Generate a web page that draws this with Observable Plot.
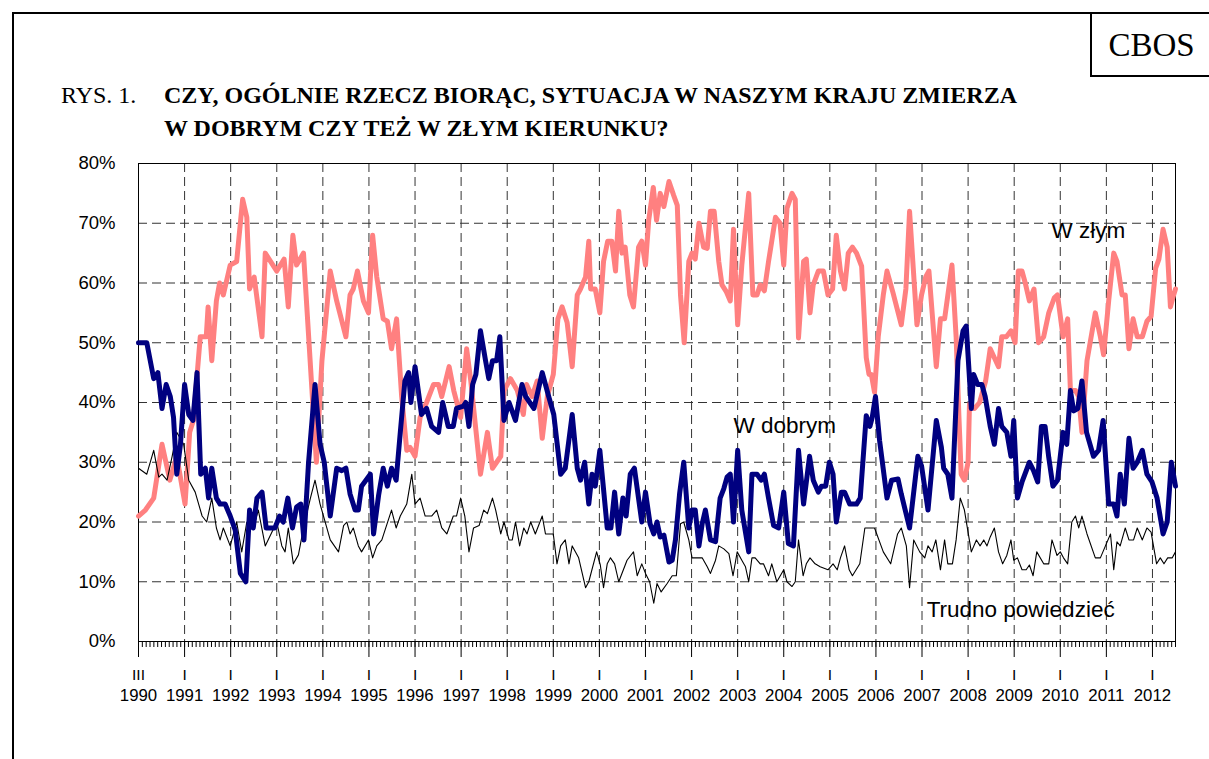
<!DOCTYPE html>
<html><head><meta charset="utf-8">
<script src="https://cdn.jsdelivr.net/npm/d3@7"></script>
<script src="https://cdn.jsdelivr.net/npm/@observablehq/plot@0.6"></script>
<style>
html,body{margin:0;padding:0;background:#fff}
body{width:1209px;height:759px;overflow:hidden;position:relative}
#frame{position:absolute;left:12px;top:12px;width:1400px;height:900px;border-left:2px solid #000;border-top:2px solid #000;box-sizing:border-box}
#cbos{position:absolute;left:1090px;top:12px;width:200px;height:65px;border-left:2px solid #000;border-bottom:2px solid #000;box-sizing:border-box}
#cbosText{position:absolute;left:1093px;width:117px;top:29px;text-align:center;font:33px/33px "Liberation Serif","Times New Roman",serif}
#rys{position:absolute;left:61px;top:79px;font:24px/33px "Liberation Serif","Times New Roman",serif;white-space:nowrap}
#title{position:absolute;left:164px;top:79px;font:bold 24px/33px "Liberation Serif","Times New Roman",serif;white-space:nowrap}
#chart{position:absolute;left:0;top:0}
</style></head>
<body>
<div id="frame"></div>
<div id="cbos"></div>
<div id="cbosText">CBOS</div>
<div id="rys">RYS. 1.</div>
<div id="title">CZY, OGÓLNIE RZECZ BIORĄC, SYTUACJA W NASZYM KRAJU ZMIERZA<br>W DOBRYM CZY TEŻ W ZŁYM KIERUNKU?</div>
<div id="chart"></div>
<script>
// ---- data (decimal year, percent) ----
const dobrymT = [1990.00,1990.18,1990.33,1990.42,1990.51,1990.60,1990.69,1990.76,1990.83,1990.91,1991.00,1991.09,1991.18,1991.27,1991.35,1991.45,1991.52,1991.59,1991.69,1991.77,1991.88,1991.99,1992.10,1992.21,1992.33,1992.41,1992.49,1992.57,1992.68,1992.77,1992.96,1993.06,1993.14,1993.24,1993.34,1993.43,1993.52,1993.59,1993.69,1993.83,1993.94,1994.03,1994.16,1994.30,1994.41,1994.50,1994.59,1994.70,1994.77,1994.84,1995.03,1995.10,1995.21,1995.31,1995.40,1995.49,1995.59,1995.68,1995.78,1995.86,1995.91,1996.00,1996.14,1996.25,1996.36,1996.51,1996.60,1996.72,1996.83,1996.90,1997.05,1997.10,1997.17,1997.25,1997.32,1997.42,1997.53,1997.60,1997.68,1997.77,1997.84,1997.93,1998.04,1998.18,1998.32,1998.40,1998.49,1998.58,1998.76,1998.90,1999.01,1999.16,1999.26,1999.41,1999.52,1999.59,1999.68,1999.77,1999.84,1999.91,2000.01,2000.17,2000.25,2000.33,2000.42,2000.51,2000.58,2000.67,2000.76,2000.92,2001.00,2001.10,2001.18,2001.25,2001.32,2001.40,2001.51,2001.58,2001.65,2001.74,2001.83,2001.94,2002.01,2002.08,2002.16,2002.23,2002.30,2002.41,2002.52,2002.62,2002.70,2002.77,2002.84,2002.91,2003.00,2003.09,2003.24,2003.31,2003.42,2003.51,2003.58,2003.67,2003.78,2003.89,2004.00,2004.10,2004.21,2004.32,2004.43,2004.56,2004.64,2004.75,2004.82,2004.91,2004.99,2005.07,2005.14,2005.25,2005.32,2005.43,2005.58,2005.66,2005.79,2005.87,2005.92,2005.99,2006.08,2006.24,2006.34,2006.48,2006.55,2006.73,2006.91,2006.99,2007.13,2007.31,2007.42,2007.47,2007.56,2007.65,2007.78,2007.89,2007.96,2008.07,2008.12,2008.21,2008.30,2008.37,2008.48,2008.57,2008.66,2008.73,2008.84,2008.93,2008.99,2009.07,2009.17,2009.33,2009.42,2009.51,2009.59,2009.67,2009.75,2009.84,2009.94,2010.06,2010.14,2010.22,2010.29,2010.38,2010.47,2010.57,2010.72,2010.83,2010.93,2011.05,2011.16,2011.23,2011.30,2011.39,2011.49,2011.58,2011.67,2011.78,2011.88,2011.99,2012.10,2012.23,2012.32,2012.41,2012.50];
const dobrymV = [50,50,44,45,39,43,41,37.5,28,33,43,38,37,45,28,29,24,29,24,23,23,21,18.6,11.4,10,22,19,24,25,19,19,21,20,24,19,22.5,23,17,30,43,33,30,21,29,28.6,29,24.7,22,22,26,28,18,24.5,29,26,29,27,35,43.6,45,40,46,38,39,36,35,40,36,36,39,39.4,40,36,43,44.7,52,47,44,47,47,51,37,40,37,43,41,40,39,45,41,38,28,29,38,29,27,30,23,28,26,32,19,19,25,18,24,21,28,29,20,25,19.7,18,20,17.5,17.8,13.3,13.6,17,24.7,30,19,22,22,16,19.7,22,17,16.7,24,25.6,27.5,28,20,32,22,15,28,28,27,28,24,19.4,19,25,16.4,16,32,23,31,27,25,26,26,30,28,20,25,25,23,23,24,37.8,36,37.5,41,33.6,24,27,27.2,24.7,19,31,29.4,22,37,32.5,29,28,24,47,52,52.8,39,44.7,43,43,41,36,33,39,36,35,31,37,24,26.7,30,28.6,26.7,36,36,30.8,26,27,35,33,42,38.6,39,43.6,35,31,32,37,23,23,21,28,23,34,29,30,32,28,26.7,24,18,20,30,26];

const zlymT = [1990.00,1990.15,1990.33,1990.51,1990.68,1990.83,1991.01,1991.11,1991.19,1991.34,1991.47,1991.51,1991.59,1991.69,1991.76,1991.84,1991.99,1992.13,1992.26,1992.35,1992.41,1992.51,1992.68,1992.75,1993.00,1993.16,1993.25,1993.35,1993.43,1993.58,1993.86,1993.98,1994.16,1994.30,1994.50,1994.59,1994.66,1994.75,1994.88,1994.99,1995.08,1995.17,1995.31,1995.40,1995.49,1995.60,1995.71,1995.82,1995.89,1996.00,1996.11,1996.25,1996.40,1996.51,1996.58,1996.74,1996.84,1996.99,1997.12,1997.21,1997.42,1997.57,1997.68,1997.86,1997.93,1998.07,1998.22,1998.35,1998.42,1998.54,1998.65,1998.76,1998.87,1999.00,1999.10,1999.19,1999.30,1999.41,1999.52,1999.59,1999.70,1999.77,1999.81,1999.91,2000.01,2000.09,2000.18,2000.27,2000.35,2000.42,2000.49,2000.56,2000.66,2000.74,2000.85,2000.92,2001.00,2001.07,2001.17,2001.24,2001.32,2001.40,2001.51,2001.61,2001.69,2001.76,2001.84,2001.94,2002.01,2002.08,2002.16,2002.26,2002.34,2002.41,2002.49,2002.59,2002.66,2002.75,2002.84,2002.91,2003.00,2003.09,2003.24,2003.33,2003.42,2003.49,2003.58,2003.67,2003.74,2003.82,2003.92,2004.00,2004.07,2004.18,2004.25,2004.32,2004.43,2004.49,2004.57,2004.64,2004.75,2004.86,2004.96,2005.06,2005.14,2005.23,2005.32,2005.40,2005.49,2005.58,2005.69,2005.79,2005.85,2005.90,2005.97,2006.05,2006.16,2006.24,2006.37,2006.55,2006.65,2006.73,2006.81,2006.89,2006.99,2007.08,2007.15,2007.22,2007.31,2007.40,2007.49,2007.65,2007.74,2007.80,2007.85,2007.92,2008.00,2008.03,2008.14,2008.25,2008.38,2008.48,2008.57,2008.66,2008.73,2008.83,2008.93,2009.02,2009.09,2009.17,2009.24,2009.33,2009.43,2009.53,2009.64,2009.75,2009.87,2009.94,2010.06,2010.16,2010.22,2010.33,2010.40,2010.47,2010.58,2010.76,2010.87,2010.94,2011.05,2011.16,2011.23,2011.34,2011.41,2011.49,2011.58,2011.67,2011.78,2011.88,2011.97,2012.07,2012.14,2012.23,2012.32,2012.39,2012.46,2012.50];
const zlymV = [21,22,24,33,27,31,23,35,37,51,51,56,47,57,60,58,63,63.6,74,71,59,61,51,65,62,64,56,68,63,65,30,47,62,57,51,58,59,62,57,55,68,61,54,53.6,49,54,41,32,32.5,31,37.5,40,43,43,41,46,42,37.5,49,43.6,28,35,29,31,42,44,42,38,43,41,43.6,34,41,44.7,54,56,53.4,46,58,59,61,67,59,59,55,63.6,67,67,62,72,65,66,58,56,66,67,63,70.5,76,70.5,75,72.8,77,74.7,73,58,50,63.6,65,64,70,66,65.8,72,72,63.6,59.7,58.6,57,69,53,63,75,58,58,59.7,58.7,63.6,67,71,70,63,72.5,75,74,50.8,63.6,64,55,59.7,62,62,58,59,68,62,59,65,66,65,62.8,47.5,44.7,44.7,41.7,51,58,62,58.4,53,59,72,62.5,53,58,61,62,55,46,54,54,63,51,37.8,28,27,30,39.7,39,40,43.6,49,47.5,46,51,51,52,50,62,62,60,57,59,50,51,55,57.5,58,51,54,42,42,41,35,47,55,51,48,57,65,63.6,58,58,49,54,51,51,53.6,54.4,62.5,64,69,66,56,58,59];

const trudnoT = [1990.00,1990.18,1990.33,1990.44,1990.51,1990.62,1990.73,1990.83,1990.98,1991.09,1991.23,1991.38,1991.48,1991.59,1991.69,1991.77,1991.84,1991.99,1992.13,1992.24,1992.35,1992.49,1992.60,1992.75,1993.00,1993.11,1993.18,1993.25,1993.36,1993.47,1993.58,1993.73,1993.83,1993.94,1994.16,1994.34,1994.45,1994.52,1994.59,1994.66,1994.77,1994.84,1994.99,1995.08,1995.17,1995.28,1995.49,1995.59,1995.68,1995.82,1995.93,1996.00,1996.11,1996.22,1996.36,1996.47,1996.58,1996.69,1996.83,1996.90,1996.99,1997.08,1997.17,1997.27,1997.39,1997.49,1997.57,1997.68,1997.75,1997.86,1997.93,1998.04,1998.11,1998.18,1998.27,1998.36,1998.43,1998.51,1998.61,1998.76,1998.83,1999.00,1999.08,1999.16,1999.26,1999.34,1999.41,1999.55,1999.70,1999.77,1999.94,2000.02,2000.09,2000.17,2000.24,2000.33,2000.42,2000.60,2000.74,2000.82,2000.92,2001.00,2001.09,2001.18,2001.25,2001.34,2001.47,2001.58,2001.67,2001.76,2001.83,2001.94,2002.01,2002.23,2002.34,2002.41,2002.52,2002.59,2002.70,2002.81,2002.90,2002.99,2003.09,2003.17,2003.24,2003.31,2003.38,2003.49,2003.56,2003.67,2003.74,2003.85,2004.00,2004.07,2004.18,2004.25,2004.32,2004.42,2004.49,2004.57,2004.68,2004.79,2004.96,2005.07,2005.16,2005.23,2005.32,2005.42,2005.49,2005.65,2005.76,2005.97,2006.16,2006.32,2006.47,2006.55,2006.66,2006.73,2006.82,2006.95,2007.06,2007.13,2007.22,2007.30,2007.40,2007.49,2007.56,2007.66,2007.74,2007.83,2007.92,2008.07,2008.18,2008.26,2008.34,2008.41,2008.48,2008.57,2008.66,2008.75,2008.84,2008.93,2008.99,2009.07,2009.17,2009.26,2009.33,2009.41,2009.49,2009.64,2009.75,2009.82,2009.93,2010.00,2010.07,2010.16,2010.25,2010.33,2010.40,2010.47,2010.58,2010.76,2010.87,2010.98,2011.09,2011.16,2011.23,2011.30,2011.41,2011.49,2011.59,2011.67,2011.78,2011.88,2011.97,2012.09,2012.17,2012.25,2012.33,2012.43,2012.50];
const trudnoV = [29,28,32,27.5,28,27,31,35,33,27,25,21,20,24,19,17,19,16,20,15,20,19,22,16,20,16,15,19,13,14.5,19,24,27,23,17,15,19.4,20,18,19,16,15,17,14,16,17,22,19,21,23,28,23,24,21,21,22,19,18,21,21,24,21,15,19,19.4,22,21.4,24,22,18,20,17,17,20,16,19,18,20,18,21,18,18,13,16,17,13,16,14,9,10,15,12.8,9,13,14,13,10,13.6,15,11,13,11.4,10,6.4,9.7,8.3,9.7,11,11,19.7,20,17,14,14,12.5,11.4,13.6,16,15.5,14.7,11,15,13.6,12.5,10,14,14,13,13,11,13,10,12,10,9.2,10,17,11,13,14,13,12.5,12,13,12,14,16,12,11,13,19,19,15,13,18,19,16,9,17,15,14,16,15,17,12,17,13,13,17,24,22,15,17,16,17,16,17.5,19,15,13,14.4,17,13.6,14,12,12,12.8,11,15,13,13,17,14.4,15,14,13,20,21,19,21,18,14,14,16,18,12,16.7,16,19,17,17,19,17,19,18.3,13,14,13,14,14,15];

// ---- axis / labels ----
const yTicks = [0,10,20,30,40,50,60,70,80];
const yGrid = [10,20,30,40,50,60,70];
const years = d3.range(1990, 2013);
const xGrid = d3.range(1991, 2013);
const monthTicks = d3.range(0, 271).map(i => 1990 + i / 12);
const seriesLabels = [
  {t: 2010.61, v: 68.8, text: "W złym"},
  {t: 2004.02, v: 36.1, text: "W dobrym"},
  {t: 2009.14, v: 5.3, text: "Trudno powiedzieć"}
];

const rows = (T, V) => T.map((t, i) => ({t, v: V[i]}));
const zlym = rows(zlymT, zlymV);
const dobrym = rows(dobrymT, dobrymV);
const trudno = rows(trudnoT, trudnoV);

const font = "'Liberation Sans', Arial, sans-serif";
const chart = Plot.plot({
  width: 1209, height: 759,
  marginLeft: 138, marginRight: 34, marginTop: 163, marginBottom: 118,
  style: {fontFamily: font, background: "transparent", color: "#000"},
  x: {domain: [1990, 2012.5], label: null},
  y: {domain: [0, 80], label: null},
  marks: [
    Plot.ruleY(yGrid, {stroke: "#333", strokeWidth: 1, strokeDasharray: "9,5"}),
    Plot.ruleX(xGrid, {stroke: "#333", strokeWidth: 1, strokeDasharray: "9,5"}),
    Plot.frame({stroke: "#000", strokeWidth: 1}),
    Plot.line(zlym, {x: "t", y: "v", stroke: "#FF8080", strokeWidth: 5, strokeLinejoin: "round"}),
    Plot.line(trudno, {x: "t", y: "v", stroke: "#000", strokeWidth: 1.1, strokeLinejoin: "round"}),
    Plot.line(dobrym, {x: "t", y: "v", stroke: "#000080", strokeWidth: 5, strokeLinejoin: "round"}),
    Plot.text(seriesLabels, {x: "t", y: "v", text: "text", fontSize: 22.5, fill: "#000", textAnchor: "middle", lineAnchor: "middle", fontFamily: font}),
    Plot.axisY({ticks: yTicks, tickFormat: d => d + "%", tickSize: 0, tickPadding: 23, fontSize: 18.5, label: null}),
    Plot.axisX({ticks: monthTicks, tickSize: 6, tickFormat: () => "", label: null, strokeWidth: 1}),
    Plot.axisX({ticks: years, tickSize: 16, tickFormat: () => "", label: null, strokeWidth: 1}),
    Plot.axisX({ticks: years, tickSize: 0, tickPadding: 27, tickFormat: d => d === 1990 ? "III" : "I", fontSize: 15.5, label: null, fill: "#000"}),
    Plot.axisX({ticks: years, tickSize: 0, tickPadding: 48, tickFormat: d => String(d), fontSize: 16.8, label: null, fill: "#000"})
  ]
});
document.getElementById("chart").appendChild(chart);
</script>
</body></html>
